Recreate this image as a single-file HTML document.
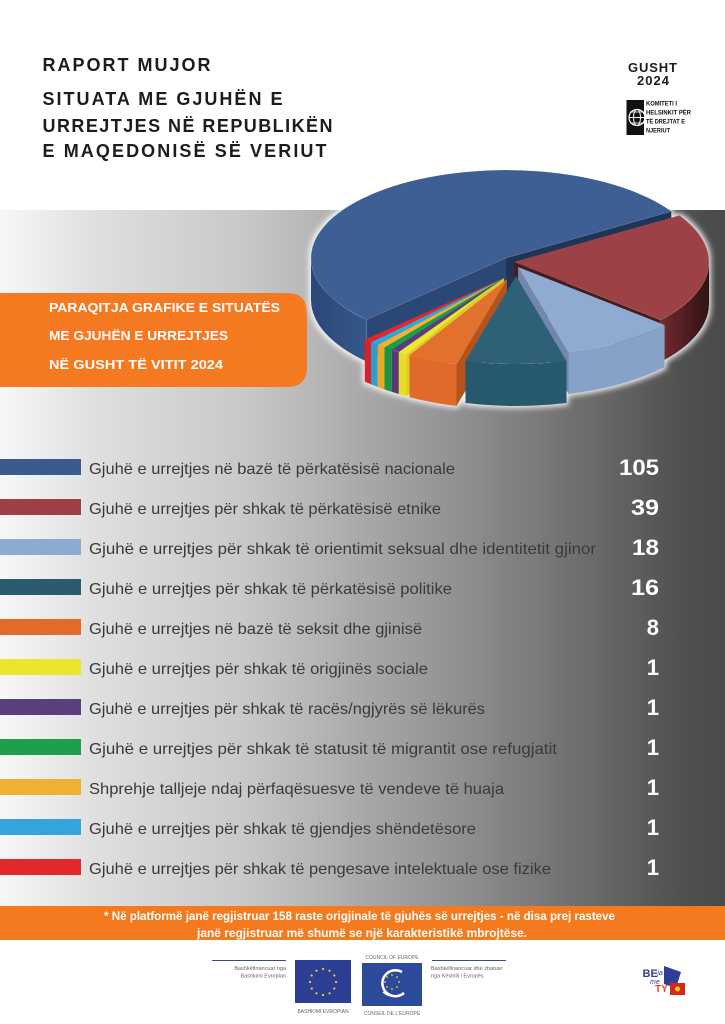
<!DOCTYPE html>
<html><head><meta charset="utf-8"><style>html,body{margin:0;padding:0;background:#fff;}svg{display:block;}</style></head>
<body>
<svg xmlns="http://www.w3.org/2000/svg" width="725" height="1024" viewBox="0 0 725 1024">
<defs>
 <linearGradient id="bg" gradientUnits="userSpaceOnUse" x1="0" y1="0" x2="725" y2="0">
  <stop offset="0" stop-color="#f7f7f7"/>
  <stop offset="0.14" stop-color="#dedede"/>
  <stop offset="0.34" stop-color="#c8c8c8"/>
  <stop offset="0.5" stop-color="#a9a9a9"/>
  <stop offset="0.63" stop-color="#919191"/>
  <stop offset="0.8" stop-color="#6e6e6e"/>
  <stop offset="0.94" stop-color="#505050"/>
  <stop offset="1" stop-color="#4a4a4a"/>
 </linearGradient>
 <linearGradient id="redside" gradientUnits="userSpaceOnUse" x1="655" y1="0" x2="712" y2="0">
  <stop offset="0" stop-color="#7a2f34"/><stop offset="1" stop-color="#2c0f11"/>
 </linearGradient>
 <linearGradient id="blueside" gradientUnits="userSpaceOnUse" x1="311" y1="0" x2="370" y2="0">
  <stop offset="0" stop-color="#2b4878"/><stop offset="1" stop-color="#36588d"/>
 </linearGradient>
 <filter id="glow" x="-10%" y="-15%" width="120%" height="130%">
  <feMorphology in="SourceAlpha" operator="dilate" radius="2" result="d"/>
  <feGaussianBlur in="d" stdDeviation="3" result="b"/>
  <feFlood flood-color="#ffffff" flood-opacity="0.9"/>
  <feComposite in2="b" operator="in" result="g"/>
  <feMerge><feMergeNode in="g"/><feMergeNode in="SourceGraphic"/></feMerge>
 </filter>
</defs>

<rect x="0" y="0" width="725" height="1024" fill="#ffffff"/>
<rect x="0" y="210" width="725" height="696" fill="url(#bg)"/>

<!-- Header -->
<g font-family="Liberation Sans, sans-serif" font-weight="bold" fill="#1c1c1c">
 <text x="42.5" y="71" font-size="18" textLength="168" lengthAdjust="spacing">RAPORT MUJOR</text>
 <text x="42.5" y="105" font-size="18" textLength="240" lengthAdjust="spacing">SITUATA ME GJUHËN E</text>
 <text x="42.5" y="132" font-size="18" textLength="290" lengthAdjust="spacing">URREJTJES NË REPUBLIKËN</text>
 <text x="42.5" y="157" font-size="18" textLength="284" lengthAdjust="spacing">E MAQEDONISË SË VERIUT</text>
 <text x="628" y="72" font-size="13" textLength="49" lengthAdjust="spacing">GUSHT</text>
 <text x="637" y="85" font-size="13" textLength="32" lengthAdjust="spacing">2024</text>
</g>
<!-- Helsinki committee logo -->
<g>
 <rect x="626.5" y="100" width="17.5" height="35" fill="#111"/>
 <circle cx="637" cy="117.5" r="8" fill="none" stroke="#fff" stroke-width="1.2"/>
 <ellipse cx="637" cy="117.5" rx="3.5" ry="8" fill="none" stroke="#fff" stroke-width="1"/>
 <line x1="629" y1="117.5" x2="645" y2="117.5" stroke="#fff" stroke-width="1"/>
 <line x1="630" y1="112" x2="644" y2="112" stroke="#fff" stroke-width="0.8"/>
 <line x1="630" y1="123" x2="644" y2="123" stroke="#fff" stroke-width="0.8"/>
 <g font-family="Liberation Sans, sans-serif" font-weight="bold" font-size="6.5" fill="#111">
  <text x="646" y="105.5" textLength="31" lengthAdjust="spacingAndGlyphs">KOMITETI I</text>
  <text x="646" y="114.5" textLength="45" lengthAdjust="spacingAndGlyphs">HELSINKIT PËR</text>
  <text x="646" y="123.5" textLength="39" lengthAdjust="spacingAndGlyphs">TË DREJTAT E</text>
  <text x="646" y="132.5" textLength="24" lengthAdjust="spacingAndGlyphs">NJERIUT</text>
 </g>
</g>

<!-- Orange title box -->
<path d="M-10,293 H287 Q307,293 307,313 V367 Q307,387 287,387 H-10 Z" fill="#f47920"/>
<g font-family="Liberation Sans, sans-serif" font-weight="bold" font-size="12.5" fill="#ffffff">
 <text x="49" y="312" textLength="231" lengthAdjust="spacingAndGlyphs">PARAQITJA GRAFIKE E SITUATËS</text>
 <text x="49" y="340" textLength="179" lengthAdjust="spacingAndGlyphs">ME GJUHËN E URREJTJES</text>
 <text x="49" y="369" textLength="174" lengthAdjust="spacingAndGlyphs">NË GUSHT TË VITIT 2024</text>
</g>

<!-- 3D Pie -->
<g filter="url(#glow)">
 <!-- Blue -->
 <path d="M506,258 L671.4,211.4 L671.4,253.4 L506,300 Z" fill="#1f3559"/>
 <path d="M506,258 L366.7,319.6 L366.7,361.6 L506,300 Z" fill="#2a4674"/>
 <path d="M366.7,319.6 A195,88 0 0 1 311,258 L311,300 A195,88 0 0 0 366.7,361.6 Z" fill="url(#blueside)"/>
 <path d="M506,258 L366.7,319.6 A195,88 0 1 1 671.4,211.4 Z" fill="#3c5e93"/>
 <!-- Red -->
 <path d="M514,262 L660.6,320 L660.6,362 L514,304 Z" fill="#4a1a1d"/>
 <path d="M709,262 A195,88 0 0 1 660.6,320 L660.6,362 A195,88 0 0 0 709,304 Z" fill="url(#redside)"/>
 <path d="M514,262 L679.4,215.4 A195,88 0 0 1 660.6,320 Z" fill="#9c4247"/>
 <!-- Small slices -->
 <path d="M371,342.4 A195,88 0 0 1 364.7,339.6 L364.7,381.6 A195,88 0 0 0 371,384.4 Z" fill="#d92226"/>
 <path d="M504,278 L371,342.4 A195,88 0 0 1 364.7,339.6 Z" fill="#e3262b"/>
 <path d="M377.6,345 A195,88 0 0 1 371,342.4 L371,384.4 A195,88 0 0 0 377.6,387 Z" fill="#2f9dd4"/>
 <path d="M504,278 L377.6,345 A195,88 0 0 1 371,342.4 Z" fill="#33a6de"/>
 <path d="M384.5,347.5 A195,88 0 0 1 377.6,345 L377.6,387 A195,88 0 0 0 384.5,389.5 Z" fill="#e8aa28"/>
 <path d="M504,278 L384.5,347.5 A195,88 0 0 1 377.6,345 Z" fill="#f0b32e"/>
 <path d="M391.6,349.9 A195,88 0 0 1 384.5,347.5 L384.5,389.5 A195,88 0 0 0 391.6,391.9 Z" fill="#1c9445"/>
 <path d="M504,278 L391.6,349.9 A195,88 0 0 1 384.5,347.5 Z" fill="#1f9d4a"/>
 <path d="M398.9,352.1 A195,88 0 0 1 391.6,349.9 L391.6,391.9 A195,88 0 0 0 398.9,394.1 Z" fill="#533a77"/>
 <path d="M504,278 L398.9,352.1 A195,88 0 0 1 391.6,349.9 Z" fill="#5a3e80"/>
 <path d="M504,278 L406.5,354.2 L406.5,396.2 L504,320 Z" fill="#dccd22"/>
 <path d="M406.5,354.2 A195,88 0 0 1 398.9,352.1 L398.9,394.1 A195,88 0 0 0 406.5,396.2 Z" fill="#eadc28"/>
 <path d="M504,278 L406.5,354.2 A195,88 0 0 1 398.9,352.1 Z" fill="#f2e52a"/>
 <!-- Orange -->
 <path d="M507,279 L456.5,364 L456.5,406 L507,321 Z" fill="#b5531e"/>
 <path d="M456.5,364 A195,88 0 0 1 409.5,355.2 L409.5,397.2 A195,88 0 0 0 456.5,406 Z" fill="#e06a2a"/>
 <path d="M507,279 L456.5,364 A195,88 0 0 1 409.5,355.2 Z" fill="#e3712f"/>
 <!-- Light blue -->
 <path d="M518,267 L568.5,352 L568.5,394 L518,309 Z" fill="#6f88ad"/>
 <path d="M664.6,325 A195,88 0 0 1 568.5,352 L568.5,394 A195,88 0 0 0 664.6,367 Z" fill="#86a2c9"/>
 <path d="M518,267 L664.6,325 A195,88 0 0 1 568.5,352 Z" fill="#8fabd1"/>
 <!-- Teal -->
 <path d="M566.5,361 A195,88 0 0 1 465.5,361 L465.5,403 A195,88 0 0 0 566.5,403 Z" fill="#28586e"/>
 <path d="M516,276 L566.5,361 A195,88 0 0 1 465.5,361 Z" fill="#2d6077"/>
</g>

<!-- Legend -->
<g>
 <rect x="0" y="459" width="81" height="16" fill="#3a5b8f"/>
 <rect x="0" y="499" width="81" height="16" fill="#9d4045"/>
 <rect x="0" y="539" width="81" height="16" fill="#8eaad0"/>
 <rect x="0" y="579" width="81" height="16" fill="#2b5b70"/>
 <rect x="0" y="619" width="81" height="16" fill="#e06b2b"/>
 <rect x="0" y="659" width="81" height="16" fill="#ece52e"/>
 <rect x="0" y="699" width="81" height="16" fill="#5a3f7e"/>
 <rect x="0" y="739" width="81" height="16" fill="#1f9e4b"/>
 <rect x="0" y="779" width="81" height="16" fill="#efb130"/>
 <rect x="0" y="819" width="81" height="16" fill="#33a5dc"/>
 <rect x="0" y="859" width="81" height="16" fill="#e3282c"/>
</g>
<g font-family="Liberation Sans, sans-serif" font-size="16" fill="#3a3a3a">
 <text x="89" y="474" textLength="366" lengthAdjust="spacingAndGlyphs">Gjuhë e urrejtjes në bazë të përkatësisë nacionale</text>
 <text x="89" y="514" textLength="352" lengthAdjust="spacingAndGlyphs">Gjuhë e urrejtjes për shkak të përkatësisë etnike</text>
 <text x="89" y="554" textLength="507" lengthAdjust="spacingAndGlyphs">Gjuhë e urrejtjes për shkak të orientimit seksual dhe identitetit gjinor</text>
 <text x="89" y="594" textLength="363" lengthAdjust="spacingAndGlyphs">Gjuhë e urrejtjes për shkak të përkatësisë politike</text>
 <text x="89" y="634" textLength="333" lengthAdjust="spacingAndGlyphs">Gjuhë e urrejtjes në bazë të seksit dhe gjinisë</text>
 <text x="89" y="674" textLength="339" lengthAdjust="spacingAndGlyphs">Gjuhë e urrejtjes për shkak të origjinës sociale</text>
 <text x="89" y="714" textLength="396" lengthAdjust="spacingAndGlyphs">Gjuhë e urrejtjes për shkak të racës/ngjyrës së lëkurës</text>
 <text x="89" y="754" textLength="468" lengthAdjust="spacingAndGlyphs">Gjuhë e urrejtjes për shkak të statusit të migrantit ose refugjatit</text>
 <text x="89" y="794" textLength="415" lengthAdjust="spacingAndGlyphs">Shprehje talljeje ndaj përfaqësuesve të vendeve të huaja</text>
 <text x="89" y="834" textLength="387" lengthAdjust="spacingAndGlyphs">Gjuhë e urrejtjes për shkak të gjendjes shëndetësore</text>
 <text x="89" y="874" textLength="462" lengthAdjust="spacingAndGlyphs">Gjuhë e urrejtjes për shkak të pengesave intelektuale ose fizike</text>
</g>
<g font-family="Liberation Sans, sans-serif" font-weight="bold" font-size="22" fill="#ffffff" text-anchor="end">
 <text x="659" y="475" textLength="40" lengthAdjust="spacingAndGlyphs">105</text>
 <text x="659" y="515" textLength="28" lengthAdjust="spacingAndGlyphs">39</text>
 <text x="659" y="555" textLength="27" lengthAdjust="spacingAndGlyphs">18</text>
 <text x="659" y="595" textLength="28" lengthAdjust="spacingAndGlyphs">16</text>
 <text x="659" y="635">8</text>
 <text x="659" y="675">1</text>
 <text x="659" y="715">1</text>
 <text x="659" y="755">1</text>
 <text x="659" y="795">1</text>
 <text x="659" y="835">1</text>
 <text x="659" y="875">1</text>
</g>

<!-- Footer orange band -->
<rect x="0" y="906" width="725" height="34" fill="#f47a20"/>
<g font-family="Liberation Sans, sans-serif" font-weight="bold" font-size="12" fill="#ffffff">
 <text x="104" y="920" textLength="511" lengthAdjust="spacingAndGlyphs">* Në platformë janë regjistruar 158 raste origjinale të gjuhës së urrejtjes - në disa prej rasteve</text>
 <text x="197" y="937" textLength="330" lengthAdjust="spacingAndGlyphs">janë regjistruar më shumë se një karakteristikë mbrojtëse.</text>
</g>

<!-- Logos -->
<g font-family="Liberation Sans, sans-serif" fill="#666">
 <line x1="212" y1="960.5" x2="286" y2="960.5" stroke="#3a4a8a" stroke-width="1"/>
 <text x="286" y="970" font-size="5.5" text-anchor="end">Bashkëfinancuar nga</text>
 <text x="286" y="977.5" font-size="5.5" text-anchor="end">Bashkimi Evropian</text>
 <rect x="295" y="960" width="56" height="43" fill="#2b3f94"/>
 <g fill="#f4d22a">
  <circle cx="323" cy="969" r="1.1"/><circle cx="329.5" cy="970.7" r="1.1"/><circle cx="334.3" cy="975.5" r="1.1"/>
  <circle cx="336" cy="982" r="1.1"/><circle cx="334.3" cy="988.5" r="1.1"/><circle cx="329.5" cy="993.3" r="1.1"/>
  <circle cx="323" cy="995" r="1.1"/><circle cx="316.5" cy="993.3" r="1.1"/><circle cx="311.7" cy="988.5" r="1.1"/>
  <circle cx="310" cy="982" r="1.1"/><circle cx="311.7" cy="975.5" r="1.1"/><circle cx="316.5" cy="970.7" r="1.1"/>
 </g>
 <text x="323" y="1013" font-size="5" text-anchor="middle">BASHKIMI EVROPIAN</text>
 <text x="392" y="959" font-size="5" text-anchor="middle">COUNCIL OF EUROPE</text>
 <rect x="362" y="963" width="60" height="43" fill="#2b4a9a"/>
 <path d="M402,972 A13,13 0 1 0 404,993" fill="none" stroke="#fff" stroke-width="2.5"/>
 <path d="M404,993 Q392,1000 383,992" fill="none" stroke="#fff" stroke-width="1.2"/>
 <g fill="#f4d22a">
  <circle cx="392" cy="975" r="0.9"/><circle cx="397" cy="977" r="0.9"/><circle cx="399" cy="982" r="0.9"/>
  <circle cx="397" cy="987" r="0.9"/><circle cx="392" cy="989" r="0.9"/><circle cx="387" cy="987" r="0.9"/>
  <circle cx="385" cy="982" r="0.9"/><circle cx="387" cy="977" r="0.9"/>
 </g>
 <text x="392" y="1015" font-size="5" text-anchor="middle">CONSEIL DE L'EUROPE</text>
 <line x1="432" y1="960.5" x2="506" y2="960.5" stroke="#3a4a8a" stroke-width="1"/>
 <text x="431" y="970" font-size="5.5">Bashkëfinancuar dhe zbatuar</text>
 <text x="431" y="977.5" font-size="5.5">nga Këshilli i Evropës</text>
</g>
<!-- BE-ja me TY -->
<g font-family="Liberation Sans, sans-serif">
 <polygon points="664,966 681,972 676,988 664,984" fill="#2d3f9a"/>
 <rect x="670" y="983" width="15" height="12" fill="#d9261c"/>
 <circle cx="677.5" cy="989" r="2.5" fill="#f7d117"/>
 <text x="642.5" y="977" font-size="11" font-weight="bold" fill="#2d3f9a">BE</text>
 <text x="655" y="975" font-size="7" font-style="italic" fill="#2d3f9a">-ja</text>
 <text x="650" y="984" font-size="7" font-style="italic" fill="#2d3f9a">me</text>
 <text x="655" y="992" font-size="10" font-weight="bold" fill="#e04a20">TY</text>
</g>
</svg>
</body></html>
